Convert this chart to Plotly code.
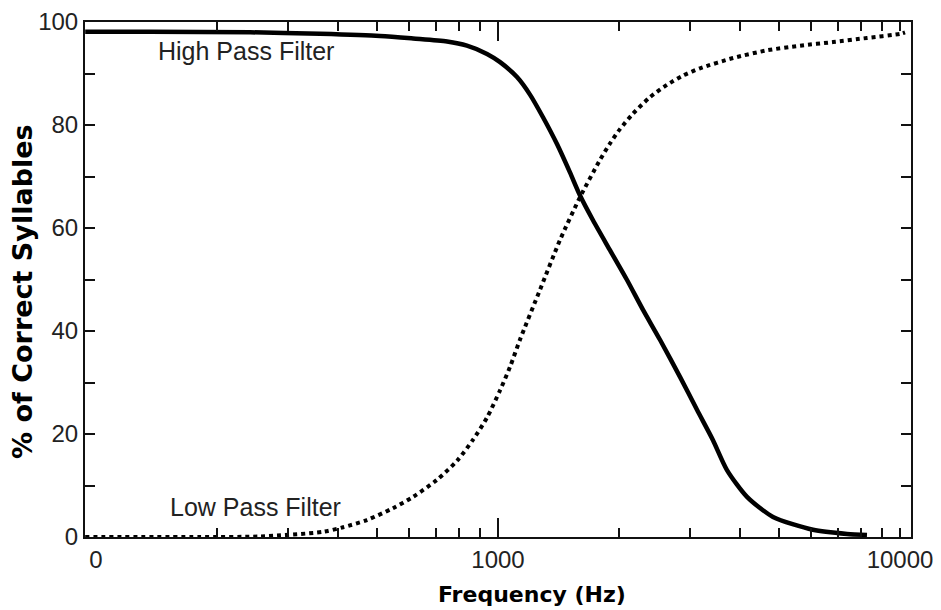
import math
import plotly.graph_objects as go

# ---- data ----
hp_freq = [94, 136, 242, 361, 509, 615, 747, 837, 939, 1012, 1115, 1201, 1294, 1402,
           1510, 1600, 1723, 1899, 2094, 2295, 2529, 2836, 3126, 3426, 3712, 4163,
           4832, 6075, 7383, 8277]
hp_pct = [98.1, 98.1, 98.0, 97.7, 97.3, 96.8, 96.2, 95.4, 93.8, 92.2, 89.3, 85.9, 81.5, 76.3,
          70.8, 66.3, 61.5, 55.7, 49.9, 44.1, 38.3, 31.1, 24.7, 18.8, 13.0, 7.8,
          3.9, 1.4, 0.6, 0.4]

lp_freq = [94, 181, 256, 367, 412, 472, 548, 615, 705, 791, 867, 939, 1012, 1071, 1134,
           1272, 1427, 1600, 1793, 1899, 2011, 2167, 2388, 2633, 2886, 3181, 3842, 4669,
           5639, 6815, 8277, 10000, 10290]
lp_pct = [0.0, 0.0, 0.1, 1.0, 1.9, 3.3, 5.6, 7.8, 11.1, 14.8, 18.9, 23.2, 28.5, 33.0, 38.3,
          48.0, 57.7, 66.0, 73.2, 76.4, 79.2, 82.2, 85.4, 87.8, 89.6, 91.0, 93.0, 94.5,
          95.4, 96.1, 96.9, 97.7, 98.0]

x_tick_vals = [100, 1000, 10000]
x_tick_text = ["0", "1000", "10000"]
x_minor_vals = [200, 300, 400, 500, 600, 700, 800, 900,
                2000, 3000, 4000, 5000, 6000, 7000, 8000, 9000, 10000]
y_tick_vals = [0, 20, 40, 60, 80, 100]

labels = ["High Pass Filter", "Low Pass Filter"]
label_freq = [141, 151]
label_pct = [94.3, 5.9]

x_range = [math.log10(93.9), math.log10(10650)]

INK = "#111111"
TXT = "#222222"

fig = go.Figure()
fig.add_trace(go.Scatter(x=hp_freq, y=hp_pct, mode="lines", name=labels[0],
                         line=dict(color="black", width=4.5, shape="spline", smoothing=0.7),
                         showlegend=False))
fig.add_trace(go.Scatter(x=lp_freq, y=lp_pct, mode="lines", name=labels[1], xaxis="x2",
                         line=dict(color="black", width=4, dash="dot", shape="spline", smoothing=0.7),
                         showlegend=False))

for t, f, p in zip(labels, label_freq, label_pct):
    fig.add_annotation(x=math.log10(f), y=p, xref="x", yref="y", text=t, showarrow=False,
                       xanchor="left", yanchor="middle",
                       font=dict(family="Liberation Sans, Arial", size=25, color=TXT))

fig.add_annotation(x=0.541, y=-0.112, xref="paper", yref="paper", text="<b>Frequency (Hz)</b>",
                   showarrow=False, xanchor="center", yanchor="middle",
                   font=dict(family="DejaVu Sans", size=22, color="black"))
fig.add_annotation(x=-0.075, y=0.476, xref="paper", yref="paper", text="<b>% of Correct Syllables</b>",
                   showarrow=False, xanchor="center", yanchor="middle", textangle=-90,
                   font=dict(family="DejaVu Sans", size=27, color="black"))

fig.update_layout(
    width=933, height=602,
    margin=dict(l=77, r=30, t=14, b=73, autoexpand=False),
    plot_bgcolor="white", paper_bgcolor="white",
    showlegend=False,
    xaxis=dict(type="log", range=x_range, showgrid=False, zeroline=False, automargin=False,
               tickmode="array", tickvals=x_tick_vals, ticktext=x_tick_text,
               ticks="", showline=True, linecolor=INK, linewidth=2, mirror="ticks",
               tickfont=dict(family="Liberation Sans, Arial", size=24, color=TXT),
               minor=dict(tickmode="array", tickvals=x_minor_vals, ticks="inside",
                          ticklen=9, tickwidth=1.5, tickcolor=INK, showgrid=False)),
    xaxis2=dict(type="log", overlaying="x", matches="x", side="bottom", showgrid=False,
                zeroline=False, automargin=False, tickmode="array", tickvals=[1000], ticks="inside",
                ticklen=19, tickwidth=1.5, tickcolor=INK, showticklabels=False,
                showline=True, linecolor=INK, linewidth=2, mirror="ticks"),
    yaxis=dict(range=[0, 100], showgrid=False, zeroline=False, automargin=False,
               tickmode="array", tickvals=y_tick_vals, ticks="inside", ticklen=10,
               tickwidth=1.5, tickcolor=INK, showline=True, linecolor=INK, linewidth=2,
               mirror="ticks",
               tickfont=dict(family="Liberation Sans, Arial", size=24, color=TXT),
               minor=dict(dtick=10, ticks="inside", ticklen=10, tickwidth=1.5,
                          tickcolor=INK, showgrid=False)),
)

fig.write_html("out.html")
